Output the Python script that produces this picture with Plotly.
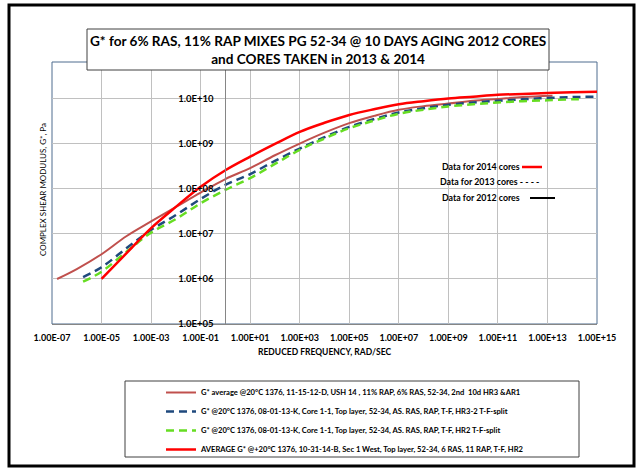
import plotly.graph_objects as go

# ---------------- data ----------------
freq_2012 = [1.6e-7, 1e-6, 1e-5, 1e-4, 1e-3, 1e-2, 1e-1, 1, 10, 100, 1e3, 1e4, 1e5, 1e6, 1e7, 1e8, 1e9, 1e10, 1e11, 1e12, 1.6e13]
g_2012 = [1.0e6, 1.66e6, 3.55e6, 8.9e6, 1.9e7, 3.98e7, 8.3e7, 1.66e8, 2.9e8, 5.6e8, 1.02e9, 1.78e9, 2.9e9, 4.2e9, 5.75e9, 6.9e9, 7.9e9, 9.1e9, 1.0e10, 1.1e10, 1.17e10]

freq_2013 = [1.8e-6, 1e-5, 1e-4, 1e-3, 1e-2, 1e-1, 1, 10, 100, 1e3, 1e4, 1e5, 1e6, 1e7, 1e8, 1e9, 1e10, 1e11, 1e12, 1e13, 1e14, 1e15]
g_2013_hr32 = [1.1e6, 1.82e6, 4.8e6, 1.23e7, 2.63e7, 6.0e7, 1.23e8, 2.14e8, 4.2e8, 7.9e8, 1.41e9, 2.4e9, 3.55e9, 5.0e9, 6.2e9, 7.4e9, 8.3e9, 9.1e9, 9.8e9, 1.05e10, 1.1e10, 1.12e10]

freq_2013_hr2 = [1.8e-6, 1e-5, 1e-4, 1e-3, 1e-2, 1e-1, 1, 10, 100, 1e3, 1e4, 1e5, 1e6, 1e7, 1e8, 1e9, 1e10, 1e11, 1e12, 1e13, 1e14, 2e14]
g_2013_hr2 = [8.7e5, 1.45e6, 4.0e6, 1.07e7, 2.14e7, 4.8e7, 9.5e7, 1.74e8, 3.6e8, 7.4e8, 1.32e9, 2.24e9, 3.3e9, 4.7e9, 5.75e9, 6.8e9, 7.6e9, 8.3e9, 8.9e9, 9.3e9, 9.8e9, 9.8e9]

freq_2014 = [1e-5, 1e-4, 1e-3, 1e-2, 1e-1, 1, 10, 100, 1e3, 1e4, 1e5, 1e6, 1e7, 1e8, 1e9, 1e10, 1e11, 1e12, 1e13, 1e14, 1e15]
g_2014 = [1.0e6, 3.7e6, 1.35e7, 4.0e7, 1.12e8, 2.6e8, 5.2e8, 1.0e9, 1.86e9, 2.95e9, 4.4e9, 5.9e9, 7.6e9, 8.9e9, 1.02e10, 1.12e10, 1.23e10, 1.29e10, 1.35e10, 1.41e10, 1.45e10]

names = [
    "G* average @20°C 1376, 11-15-12-D, USH 14 , 11% RAP, 6% RAS, 52-34, 2nd  10d HR3 &AR1",
    "G* @20°C 1376, 08-01-13-K, Core 1-1, Top layer, 52-34, AS. RAS, RAP, T-F, HR3-2 T-F-split",
    "G* @20°C 1376, 08-01-13-K, Core 1-1, Top layer, 52-34, AS. RAS, RAP, T-F, HR2 T-F-split",
    "AVERAGE G* @+20°C 1376, 10-31-14-B, Sec 1 West, Top layer, 52-34, 6 RAS, 11 RAP, T-F, HR2",
]

x_tickvals = [1e-7, 1e-5, 1e-3, 1e-1, 1e1, 1e3, 1e5, 1e7, 1e9, 1e11, 1e13, 1e15]
x_ticktext = ["1.00E-07", "1.00E-05", "1.00E-03", "1.00E-01", "1.00E+01", "1.00E+03",
              "1.00E+05", "1.00E+07", "1.00E+09", "1.00E+11", "1.00E+13", "1.00E+15"]
y_tickvals = [1e5, 1e6, 1e7, 1e8, 1e9, 1e10]
y_ticktext = ["1.0E+05", "1.0E+06", "1.0E+07", "1.0E+08", "1.0E+09", "1.0E+10"]

title_text = "G* for 6% RAS, 11% RAP MIXES PG 52-34 @ 10 DAYS AGING 2012 CORES<br>and CORES TAKEN in 2013 & 2014"

# ---------------- layout geometry ----------------
W, H = 639, 471
L, R, T, B = 52, 42, 62, 147
PW, PH = W - L - R, H - T - B


def px(p):
    return (p - L) / PW


def py(p):
    return (H - B - p) / PH


FONT = "Lato, Liberation Sans, sans-serif"

fig = go.Figure()
fig.add_trace(go.Scatter(x=freq_2012, y=g_2012, mode="lines", name=names[0],
                         line=dict(color="#C0504D", width=2, shape="spline")))
fig.add_trace(go.Scatter(x=freq_2013, y=g_2013_hr32, mode="lines", name=names[1],
                         line=dict(color="#1F497D", width=2.5, dash="8px,5px", shape="spline")))
fig.add_trace(go.Scatter(x=freq_2013_hr2, y=g_2013_hr2, mode="lines", name=names[2],
                         line=dict(color="#66DD22", width=2.5, dash="8px,5px", shape="spline")))
fig.add_trace(go.Scatter(x=freq_2014, y=g_2014, mode="lines", name=names[3],
                         line=dict(color="#FF0000", width=2.5, shape="spline")))

fig.update_layout(
    width=W, height=H,
    margin=dict(l=L, r=R, t=T, b=B, autoexpand=False),
    paper_bgcolor="white", plot_bgcolor="white",
    font=dict(family=FONT, color="black"),
    showlegend=True,
    legend=dict(x=px(161), y=py(378), xanchor="left", yanchor="top",
                bgcolor="rgba(0,0,0,0)", borderwidth=0, itemwidth=30,
                font=dict(size=7.6, family=FONT, weight="bold")),
    xaxis=dict(type="log", range=[-7, 15], tickvals=x_tickvals, ticktext=x_ticktext,
               showgrid=True, gridcolor="#C0C0C0", gridwidth=1,
               showline=True, linecolor="#868686", linewidth=1,
               ticks="", zeroline=False, tickangle=0, automargin=False,
               ticklabelstandoff=5,
               tickfont=dict(size=9, family=FONT, weight="bold")),
    yaxis=dict(type="log", range=[5, 10.82], tickvals=y_tickvals, ticktext=y_ticktext,
               anchor="free", position=7 / 22, automargin=False,
               showgrid=True, gridcolor="#C0C0C0", gridwidth=1,
               showline=True, linecolor="#868686", linewidth=1,
               ticks="", ticklabelstandoff=10, zeroline=False,
               tickfont=dict(size=9.5, family=FONT, weight="bold")),
)

shapes = [
    # plot area frame
    dict(type="rect", xref="paper", yref="paper", x0=0, x1=1, y0=0, y1=1,
         line=dict(color="#4F6D8F", width=1), layer="below"),
    # outer black border
    dict(type="rect", xref="paper", yref="paper", x0=px(9), x1=px(634), y0=py(5), y1=py(466),
         line=dict(color="black", width=3)),
    # title box
    dict(type="rect", xref="paper", yref="paper", x0=px(87), x1=px(549), y0=py(29), y1=py(70),
         line=dict(color="#404040", width=1), fillcolor="white", layer="above"),
    # bottom legend box
    dict(type="rect", xref="paper", yref="paper", x0=px(125), x1=px(579), y0=py(381), y1=py(457),
         line=dict(color="#404040", width=1)),
    # inner key samples
    dict(type="line", xref="paper", yref="paper", x0=px(522), x1=px(542), y0=py(167), y1=py(167),
         line=dict(color="#FF0000", width=2.5)),
    dict(type="line", xref="paper", yref="paper", x0=px(530), x1=px(555), y0=py(198), y1=py(198),
         line=dict(color="black", width=2)),
]
fig.update_layout(shapes=shapes)

annotations = [
    dict(text=title_text, xref="paper", yref="paper", x=px(318), y=py(50), showarrow=False,
         xanchor="center", yanchor="middle", align="center",
         font=dict(size=13.6, family=FONT, weight="bold")),
    dict(text="Data for 2014 cores", xref="paper", yref="paper", x=px(440), y=py(166),
         showarrow=False, xanchor="left", yanchor="middle",
         font=dict(size=8.8, family=FONT, weight="bold")),
    dict(text="Data for 2013 cores - - - -", xref="paper", yref="paper", x=px(438), y=py(181),
         showarrow=False, xanchor="left", yanchor="middle",
         font=dict(size=8.8, family=FONT, weight="bold")),
    dict(text="Data for 2012 cores", xref="paper", yref="paper", x=px(440), y=py(197),
         showarrow=False, xanchor="left", yanchor="middle",
         font=dict(size=8.8, family=FONT, weight="bold")),
    dict(text="REDUCED FREQUENCY, RAD/SEC", xref="paper", yref="paper", x=px(324), y=py(352),
         showarrow=False, xanchor="center", yanchor="middle",
         font=dict(size=8.5, family=FONT, weight="bold")),
    dict(text="COMPLEX SHEAR MODULUS, G*, Pa", xref="paper", yref="paper", x=px(43), y=py(190),
         showarrow=False, xanchor="center", yanchor="middle", textangle=-90,
         font=dict(size=8, family=FONT)),
]
fig.update_layout(annotations=annotations)

fig.write_html("out.html", post_script="document.body.style.margin='0';",
               config={"displayModeBar": False})
